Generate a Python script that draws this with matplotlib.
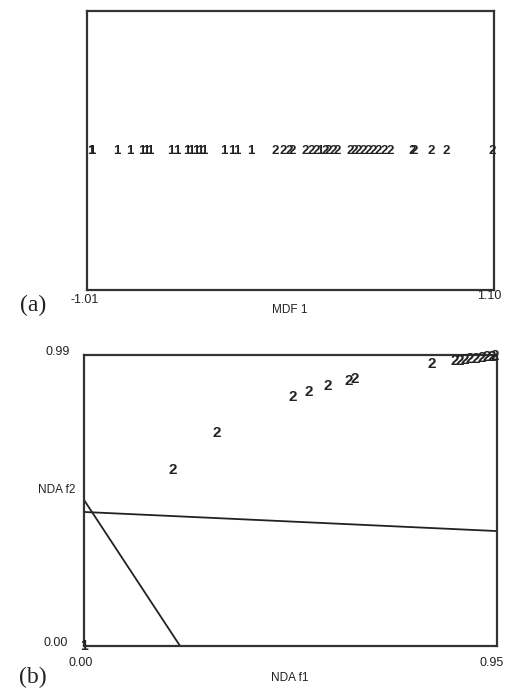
import matplotlib.pyplot as plt

# panel (a): MDF 1 scores, class 1 and class 2
mdf_class1 = [-0.989, -0.984, -0.854, -0.787, -0.725, -0.704, -0.683, -0.575, -0.543,
              -0.492, -0.471, -0.445, -0.424, -0.403, -0.300, -0.258, -0.232, -0.160, 0.198]
mdf_class2 = [-0.035, 0.006, 0.037, 0.053, 0.120, 0.151, 0.177, 0.224, 0.239, 0.265, 0.286,
              0.353, 0.374, 0.395, 0.421, 0.447, 0.473, 0.499, 0.530, 0.561, 0.675, 0.685,
              0.773, 0.851, 1.089]
mdf_min, mdf_max = -1.01, 1.10

# panel (b): NDA f1 / f2
nda_f1_class2 = [0.205, 0.306, 0.481, 0.518, 0.561, 0.610, 0.623, 0.800,
                 0.853, 0.865, 0.876, 0.888, 0.902, 0.915, 0.927, 0.938, 0.945]
nda_f2_class2 = [0.599, 0.725, 0.847, 0.864, 0.885, 0.902, 0.908, 0.959,
                 0.970, 0.970, 0.973, 0.976, 0.976, 0.980, 0.983, 0.983, 0.986]
nda_f1_class1 = [0.0]
nda_f2_class1 = [0.0]
line1_x = [0.0, 0.221]
line1_y = [0.497, 0.0]
line2_x = [0.0, 0.95]
line2_y = [0.456, 0.391]
f1_max, f2_max = 0.95, 0.99

W, H = 507, 690
fig = plt.figure(figsize=(W / 100, H / 100), dpi=100)
plt.rcParams['font.family'] = ['Liberation Sans', 'DejaVu Sans']
ink = '#222222'


def px(x, y):
    return x / W, 1 - y / H


def style_axes(ax):
    ax.set_xticks([])
    ax.set_yticks([])
    for s in ax.spines.values():
        s.set_linewidth(1.6)
        s.set_color('#333333')


# ---- (a)
ax1 = fig.add_axes([87 / W, 1 - 290 / H, (494 - 87) / W, (290 - 11) / H])
style_axes(ax1)
ax1.set_xlim(mdf_min, mdf_max)
ax1.set_ylim(-1, 1)
for v in mdf_class1:
    ax1.text(v, 0, '1', ha='center', va='center', fontsize=9.5, fontweight='bold', color=ink)
for v in mdf_class2:
    ax1.text(v, 0, '2', ha='center', va='center', fontsize=9.5, fontweight='bold', color=ink)

fig.text(*px(85, 300), f'{mdf_min:.2f}', ha='center', va='center', fontsize=9, color=ink)
fig.text(*px(489, 296), f'{mdf_max:.2f}', ha='center', va='center', fontsize=9, color=ink)
fig.text(*px(290, 310), 'MDF 1', ha='center', va='center', fontsize=8.5, color=ink)
fig.text(*px(33, 305), '(a)', ha='center', va='center', fontsize=17,
         family=['Liberation Serif', 'DejaVu Serif'], color=ink)

# ---- (b)
ax2 = fig.add_axes([84 / W, 1 - 646 / H, (497 - 84) / W, (646 - 355) / H])
style_axes(ax2)
ax2.set_xlim(0, f1_max)
ax2.set_ylim(0, f2_max)
ax2.plot(line1_x, line1_y, color=ink, lw=1.3)
ax2.plot(line2_x, line2_y, color=ink, lw=1.3)
for a, b in zip(nda_f1_class2, nda_f2_class2):
    ax2.text(a, b, '2', ha='center', va='center', fontsize=11, fontweight='bold', color=ink)
for a, b in zip(nda_f1_class1, nda_f2_class1):
    ax2.text(a, b, '1', ha='center', va='center', fontsize=10, fontweight='bold', color=ink,
             clip_on=False)

fig.text(*px(58, 352), f'{f2_max:.2f}', ha='center', va='center', fontsize=9, color=ink)
fig.text(*px(57, 490), 'NDA f2', ha='center', va='center', fontsize=8.5, color=ink)
fig.text(*px(56, 643), '0.00', ha='center', va='center', fontsize=9, color=ink)
fig.text(*px(81, 663), '0.00', ha='center', va='center', fontsize=9, color=ink)
fig.text(*px(492, 663), f'{f1_max:.2f}', ha='center', va='center', fontsize=9, color=ink)
fig.text(*px(290, 678), 'NDA f1', ha='center', va='center', fontsize=8.5, color=ink)
fig.text(*px(33, 677), '(b)', ha='center', va='center', fontsize=17,
         family=['Liberation Serif', 'DejaVu Serif'], color=ink)

fig.savefig('out.png', dpi=100)
